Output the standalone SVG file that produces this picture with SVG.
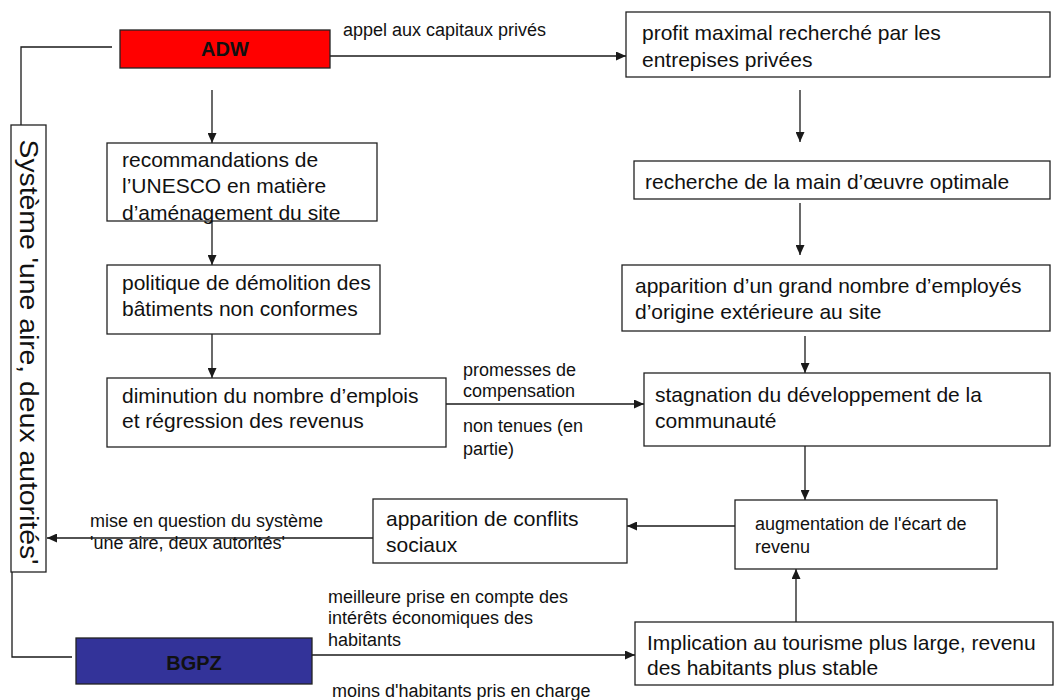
<svg xmlns="http://www.w3.org/2000/svg" width="1056" height="700" viewBox="0 0 1056 700">
<defs>
<marker id="ah" markerUnits="userSpaceOnUse" markerWidth="11" markerHeight="9" refX="10" refY="4.5" orient="auto">
<path d="M0,0 L10,4.5 L0,9 z" fill="#1a1a1a"/>
</marker>
<style>
.box{fill:#fff;stroke:#222;stroke-width:1.3}
.t{font-family:"Liberation Sans",Arial,sans-serif;font-size:21px;fill:#111}
.l{font-family:"Liberation Sans",Arial,sans-serif;font-size:18px;fill:#111}
.b{font-family:"Liberation Sans",Arial,sans-serif;font-size:20px;font-weight:bold;fill:#111;text-anchor:middle}
.c{fill:none;stroke:#1a1a1a;stroke-width:1.3}
.a{fill:none;stroke:#1a1a1a;stroke-width:1.3;marker-end:url(#ah)}
</style>
</defs>
<rect width="1056" height="700" fill="#fff"/>

<g id="connectors">
<polyline class="c" points="112,47 21,47 21,125"/>
<polyline class="c" points="12,572 12,657 72,657"/>
<line class="a" x1="330" y1="56" x2="626" y2="56"/>
<line class="a" x1="212" y1="90" x2="212" y2="143"/>
<line class="a" x1="212" y1="221" x2="212" y2="265"/>
<line class="a" x1="212" y1="334" x2="212" y2="378"/>
<line class="a" x1="446" y1="404" x2="644" y2="404"/>
<line class="a" x1="800" y1="90" x2="800" y2="142"/>
<line class="a" x1="800" y1="203" x2="800" y2="255"/>
<line class="a" x1="805" y1="336" x2="805" y2="373"/>
<line class="a" x1="805" y1="446" x2="805" y2="500"/>
<line class="a" x1="735" y1="526" x2="627" y2="526"/>
<line class="a" x1="373" y1="538" x2="47" y2="538"/>
<line class="a" x1="312" y1="655" x2="635" y2="655"/>
<line class="a" x1="796" y1="622" x2="796" y2="569"/>
</g>

<g id="labels">
<text class="l" x="343" y="36">appel aux capitaux privés</text>
<text class="l" x="463" y="376">promesses de</text>
<text class="l" x="463" y="397">compensation</text>
<text class="l" x="463" y="432">non tenues (en</text>
<text class="l" x="463" y="455">partie)</text>
<text class="l" x="90" y="527">mise en question du système</text>
<text class="l" x="90" y="549">'une aire, deux autorités'</text>
<text class="l" x="328" y="603">meilleure prise en compte des</text>
<text class="l" x="328" y="624">intérêts économiques des</text>
<text class="l" x="328" y="646">habitants</text>
<text class="l" x="332" y="697">moins d'habitants pris en charge</text>
</g>

<g id="systeme">
<rect class="box" x="11" y="125" width="35" height="447"/>
<text class="t" style="font-size:25px" text-anchor="middle" textLength="425" lengthAdjust="spacingAndGlyphs" transform="translate(20,352) rotate(90)">Système 'une aire, deux autorités'</text>
</g>

<g id="adw">
<rect x="120" y="30" width="210" height="38" fill="#ff0000" stroke="#222" stroke-width="1.3"/>
<text class="b" x="225" y="56">ADW</text>
</g>

<g id="bgpz">
<rect x="76" y="638" width="236" height="46" fill="#333399" stroke="#222" stroke-width="1.3"/>
<text class="b" x="194" y="670">BGPZ</text>
</g>

<g id="recommandations">
<rect class="box" x="107" y="143" width="270" height="78"/>
<text class="t" x="122" y="167">recommandations de</text>
<text class="t" x="122" y="193">l’UNESCO en matière</text>
<text class="t" x="122" y="220">d’aménagement du site</text>
</g>

<g id="politique">
<rect class="box" x="107" y="265" width="273" height="69"/>
<text class="t" x="122" y="290">politique de démolition des</text>
<text class="t" x="122" y="316">bâtiments non conformes</text>
</g>

<g id="diminution">
<rect class="box" x="107" y="378" width="339" height="69"/>
<text class="t" x="122" y="403">diminution du nombre d’emplois</text>
<text class="t" x="122" y="428">et régression des revenus</text>
</g>

<g id="profit">
<rect class="box" x="626" y="12" width="424" height="65"/>
<text class="t" x="642" y="40">profit maximal recherché  par les</text>
<text class="t" x="642" y="67">entrepises privées</text>
</g>

<g id="recherche">
<rect class="box" x="634" y="161" width="416" height="38"/>
<text class="t" x="645" y="189">recherche de la main d’œuvre optimale</text>
</g>

<g id="apparition-employes">
<rect class="box" x="622" y="265" width="428" height="66"/>
<text class="t" x="635" y="293">apparition d’un grand nombre d’employés</text>
<text class="t" x="635" y="319">d’origine extérieure au site</text>
</g>

<g id="stagnation">
<rect class="box" x="644" y="373" width="406" height="73"/>
<text class="t" x="655" y="402">stagnation du développement de la</text>
<text class="t" x="655" y="428">communauté</text>
</g>

<g id="augmentation">
<rect class="box" x="735" y="500" width="262" height="69"/>
<text class="l" x="755" y="530">augmentation de l'écart de</text>
<text class="l" x="755" y="553">revenu</text>
</g>

<g id="conflits">
<rect class="box" x="373" y="499" width="254" height="64"/>
<text class="t" x="386" y="526">apparition de conflits</text>
<text class="t" x="386" y="552">sociaux</text>
</g>

<g id="implication">
<rect class="box" x="635" y="622" width="418" height="63"/>
<text class="t" x="647" y="650">Implication au tourisme plus large, revenu</text>
<text class="t" x="647" y="675">des habitants plus stable</text>
</g>
</svg>
